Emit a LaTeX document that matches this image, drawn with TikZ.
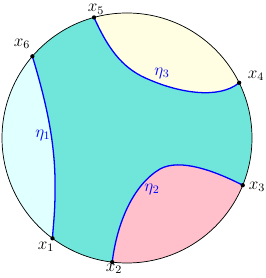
\documentclass[tikz,border=0pt]{standalone}
\usetikzlibrary{calc}
\definecolor{mainteal}{RGB}{112,230,218}
\definecolor{lcyan}{RGB}{224,255,255}
\definecolor{lyellow}{RGB}{255,253,226}
\definecolor{lpink}{RGB}{255,192,203}
\tikzset{
  curve/.style={blue, line width=0.9pt},
  bound/.style={black, line width=0.5pt},
  pt/.style={circle, fill=black, inner sep=0pt, minimum size=3pt},
  lab/.style={inner sep=0pt, font=\fontsize{11.5}{13}\selectfont},
  etalab/.style={blue, inner sep=0pt, font=\fontsize{11.5}{13}\selectfont},
}
\begin{document}
\begin{tikzpicture}[x=0.7pt,y=0.7pt]
\useasboundingbox (0,0) rectangle (266,278);
\coordinate (O) at (127,140);
\coordinate (x5) at ($(O)+(105.3:125)$);
\coordinate (x6) at ($(O)+(139.2:125)$);
\coordinate (x1) at ($(O)+(233.4:125)$);
\coordinate (x2) at ($(O)+(263.2:125)$);
\coordinate (x3) at ($(O)+(337.8:125)$);
\coordinate (x4) at ($(O)+(26.2:125)$);
% main fill
\fill[mainteal] (O) circle[radius=125];
% left region
\fill[lcyan] (x6) arc[start angle=139.2, end angle=233.4, radius=125]
  .. controls (53,50) and (55,65) .. (55,85)
  .. controls (56,130) and (48,170) .. (x6) -- cycle;
% top right region
\fill[lyellow] (x5) arc[start angle=105.3, end angle=26.2, radius=125]
  .. controls (218,178) and (178,186) .. (150,198)
  .. controls (125,208) and (110,225) .. (x5) -- cycle;
% bottom right region
\fill[lpink] (x2) arc[start angle=263.2, end angle=337.8, radius=125]
  .. controls (215,107) and (180,120) .. (160,109)
  .. controls (133,93) and (117,55) .. (x2) -- cycle;
% boundary circle
\draw[bound] (O) circle[radius=125];
% curves
\draw[curve] (x6) .. controls (48,170) and (56,130) .. (55,85)
  .. controls (55,65) and (53,50) .. (x1);
\draw[curve] (x5) .. controls (110,225) and (125,208) .. (150,198)
  .. controls (178,186) and (218,178) .. (x4);
\draw[curve] (x2) .. controls (117,55) and (133,93) .. (160,109)
  .. controls (180,120) and (215,107) .. (x3);
% points
\foreach \p in {x1,x2,x3,x4,x5,x6} \node[pt] at (\p) {};
% labels
\node[lab] (l5) at (96,268.5) {$x_5$};
\node[lab] (l6) at (22,234) {$x_6$};
\node[lab] (l4) at (256,202) {$x_4$};
\node[lab] (l3) at (257,91) {$x_3$};
\node[lab] (l2) at (114,9) {$x_2$};
\node[lab] (l1) at (46,31) {$x_1$};
\node[etalab] (e1) at (43,143) {$\eta_1$};
\node[etalab] (e3) at (162,205) {$\eta_3$};
\node[etalab] (e2) at (152,89) {$\eta_2$};
\end{tikzpicture}
\end{document}
